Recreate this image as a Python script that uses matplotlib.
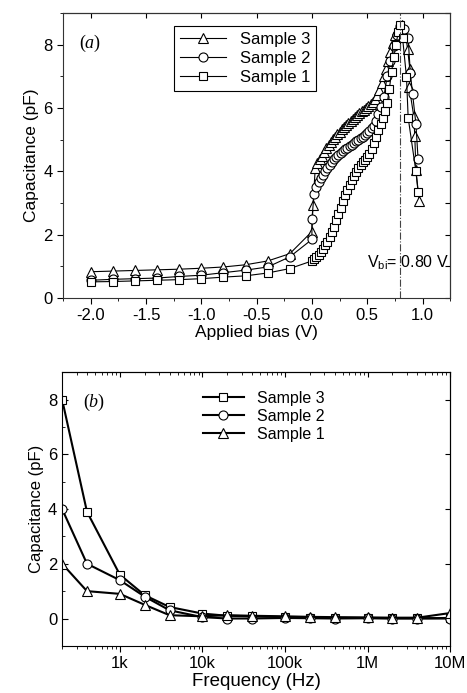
import matplotlib
matplotlib.use('Agg')
import matplotlib.pyplot as plt
from matplotlib.ticker import MultipleLocator, FixedLocator, LogLocator, NullFormatter

plt.rcParams['font.family'] = ['Liberation Sans', 'DejaVu Sans']
plt.rcParams['mathtext.fontset'] = 'custom'
plt.rcParams['mathtext.rm'] = 'Liberation Serif'
plt.rcParams['mathtext.it'] = 'Liberation Serif:italic'
plt.rcParams['mathtext.sf'] = 'Liberation Sans'

# ---- panel (a): C-V data ----
# Sample 3 (triangles)
bias_s3 = [-2.0, -1.8, -1.6, -1.4, -1.2, -1.0, -0.8, -0.6, -0.4, -0.2,
           0.00, 0.01, 0.03, 0.05, 0.07, 0.09, 0.11, 0.13, 0.15, 0.17, 0.19,
           0.21, 0.23, 0.25, 0.27, 0.29, 0.31, 0.33, 0.35, 0.37, 0.39,
           0.41, 0.43, 0.45, 0.47, 0.49, 0.51, 0.53, 0.55, 0.57, 0.59,
           0.61, 0.63, 0.65, 0.67, 0.69, 0.71, 0.73, 0.75, 0.77, 0.79, 0.81,
           0.85, 0.865, 0.885, 0.88, 0.92, 0.93, 0.94, 0.97]
cap_s3 = [0.83, 0.85, 0.87, 0.89, 0.91, 0.94, 0.98, 1.05, 1.17, 1.40,
          2.10, 2.95, 4.10, 4.25, 4.38, 4.50, 4.62, 4.73, 4.83, 4.93, 5.02,
          5.10, 5.18, 5.26, 5.33, 5.40, 5.47, 5.54, 5.60, 5.66, 5.72,
          5.78, 5.84, 5.90, 5.95, 6.01, 6.07, 6.13, 6.20, 6.30, 6.42,
          6.58, 6.78, 7.00, 7.25, 7.50, 7.78, 8.05, 8.30, 8.48, 8.60, 8.62,
          8.24, 7.87, 7.24, 6.66, 5.76, 5.12, 4.06, 3.06]

# Sample 2 (circles)
bias_s2 = [-2.0, -1.8, -1.6, -1.4, -1.2, -1.0, -0.8, -0.6, -0.4, -0.2,
           0.00, 0.00, 0.02, 0.04, 0.06, 0.08, 0.10, 0.12, 0.14, 0.16, 0.18,
           0.20, 0.22, 0.24, 0.26, 0.28, 0.30, 0.32, 0.34, 0.36, 0.38,
           0.40, 0.42, 0.44, 0.46, 0.48, 0.50, 0.52, 0.54, 0.56, 0.58,
           0.60, 0.62, 0.65, 0.68, 0.71, 0.74, 0.77, 0.80,
           0.83, 0.87, 0.89, 0.91, 0.94, 0.96]
cap_s2 = [0.56, 0.59, 0.61, 0.63, 0.68, 0.72, 0.80, 0.88, 0.98, 1.30,
          1.85, 2.50, 3.30, 3.50, 3.65, 3.78, 3.90, 4.00, 4.10, 4.20, 4.30,
          4.38, 4.45, 4.52, 4.58, 4.64, 4.70, 4.75, 4.80, 4.85, 4.90,
          4.95, 4.99, 5.04, 5.09, 5.14, 5.20, 5.28, 5.38, 5.45, 5.60,
          5.80, 6.05, 6.35, 7.00, 7.50, 7.95, 8.30, 8.60,
          8.50, 8.20, 7.10, 6.45, 5.50, 4.38]

# Sample 1 (squares)
bias_s1 = [-2.0, -1.8, -1.6, -1.4, -1.2, -1.0, -0.8, -0.6, -0.4, -0.2,
           0.00, 0.02, 0.04, 0.06, 0.08, 0.10, 0.12, 0.14, 0.16, 0.18,
           0.20, 0.22, 0.24, 0.26, 0.28, 0.30, 0.32, 0.34, 0.36, 0.38,
           0.40, 0.42, 0.44, 0.46, 0.48, 0.50, 0.52, 0.54, 0.56, 0.58,
           0.60, 0.62, 0.64, 0.66, 0.68, 0.70, 0.72, 0.74, 0.76, 0.78, 0.80,
           0.82, 0.855, 0.87, 0.94, 0.96]
cap_s1 = [0.51, 0.52, 0.54, 0.56, 0.58, 0.61, 0.66, 0.70, 0.79, 0.93,
          1.17, 1.22, 1.28, 1.36, 1.45, 1.55, 1.66, 1.78, 1.92, 2.08,
          2.25, 2.45, 2.65, 2.85, 3.05, 3.24, 3.42, 3.58, 3.73, 3.86,
          3.98, 4.10, 4.20, 4.29, 4.37, 4.45, 4.56, 4.70, 4.90, 5.10,
          5.30, 5.50, 5.68, 5.90, 6.15, 6.60, 7.15, 7.60, 8.00, 8.40, 8.62,
          8.20, 6.98, 5.70, 4.00, 3.34]

v_bi = 0.80

# ---- panel (b): C-f data ----
freq = [200, 400, 1e3, 2e3, 4e3, 1e4, 2e4, 4e4, 1e5, 2e5, 4e5, 1e6, 2e6, 4e6, 1e7]
cap_f3 = [8.0, 3.9, 1.6, 0.85, 0.42, 0.18, 0.10, 0.08, 0.05, 0.03, 0.02, 0.02, 0.01, 0.01, 0.02]
cap_f2 = [4.0, 2.0, 1.4, 0.80, 0.30, 0.05, 0.00, 0.00, 0.02, 0.01, 0.00, 0.01, 0.00, 0.00, 0.00]
cap_f1 = [2.0, 1.0, 0.9, 0.50, 0.12, 0.08, 0.12, 0.10, 0.08, 0.06, 0.05, 0.04, 0.03, 0.03, 0.20]
freq_ticks = [1e3, 1e4, 1e5, 1e6, 1e7]
freq_labels = ['1k', '10k', '100k', '1M', '10M']

fig = plt.figure(figsize=(4.67, 6.93), dpi=100)
ax1 = fig.add_axes([0.135, 0.570, 0.829, 0.411])
ax2 = fig.add_axes([0.133, 0.068, 0.831, 0.395])

mk = dict(mfc='white', mec='black', color='black')

# (a)
ax1.plot(bias_s3, cap_s3, marker='^', ms=7, lw=0.8, mew=0.8, label='Sample 3', **mk)
ax1.plot(bias_s2, cap_s2, marker='o', ms=6.5, lw=0.8, mew=0.8, label='Sample 2', **mk)
ax1.plot(bias_s1, cap_s1, marker='s', ms=5.5, lw=0.8, mew=0.8, label='Sample 1', **mk)
ax1.axvline(v_bi, color='#444444', lw=0.8, ls='-.')
ax1.text(0.495, 1.1, r'V$_{\mathsf{bi}}$= 0.80 V', fontsize=11.5, va='center')
ax1.text(0.04, 0.895, r'$(\mathit{a})$', transform=ax1.transAxes, fontsize=13, va='center')
ax1.set_xlim(-2.25, 1.25)
ax1.set_ylim(0, 9)
ax1.xaxis.set_major_locator(FixedLocator([-2.0, -1.5, -1.0, -0.5, 0.0, 0.5, 1.0]))
ax1.xaxis.set_minor_locator(MultipleLocator(0.25))
ax1.yaxis.set_major_locator(MultipleLocator(2))
ax1.yaxis.set_minor_locator(MultipleLocator(1))
ax1.set_xticklabels(['-2.0', '-1.5', '-1.0', '-0.5', '0.0', '0.5', '1.0'])
ax1.set_xlabel('Applied bias (V)', fontsize=12.5, labelpad=1)
ax1.set_ylabel('Capacitance (pF)', fontsize=12.5, labelpad=3)
ax1.tick_params(which='both', direction='out', labelsize=12)
ax1.tick_params(which='major', length=4)
ax1.tick_params(which='minor', length=2.5)
leg = ax1.legend(loc='upper left', bbox_to_anchor=(0.265, 0.985), fontsize=12,
                 handlelength=2.8, fancybox=False, edgecolor='black',
                 borderpad=0.35, labelspacing=0.25, framealpha=1)
leg.get_frame().set_linewidth(0.8)
for s in ax1.spines.values():
    s.set_color('#333333')

# (b)
ax2.plot(freq, cap_f3, marker='s', ms=6, lw=1.5, mew=0.8, label='Sample 3', **mk)
ax2.plot(freq, cap_f2, marker='o', ms=6.5, lw=1.5, mew=0.8, label='Sample 2', **mk)
ax2.plot(freq, cap_f1, marker='^', ms=7, lw=1.5, mew=0.8, label='Sample 1', **mk)
ax2.set_xscale('log')
ax2.set_xlim(200, 1e7)
ax2.set_ylim(-1, 9)
ax2.xaxis.set_major_locator(FixedLocator(freq_ticks))
ax2.xaxis.set_minor_locator(LogLocator(base=10, subs=range(2, 10)))
ax2.xaxis.set_minor_formatter(NullFormatter())
ax2.set_xticklabels(freq_labels)
ax2.yaxis.set_major_locator(FixedLocator([0, 2, 4, 6, 8]))
ax2.yaxis.set_minor_locator(MultipleLocator(1))
ax2.text(0.054, 0.89, r'$(\mathit{b})$', transform=ax2.transAxes, fontsize=13, va='center')
ax2.set_xlabel('Frequency (Hz)', fontsize=13.5, labelpad=1)
ax2.set_ylabel('Capacitance (pF)', fontsize=12, labelpad=3)
ax2.tick_params(which='both', labelsize=12)
ax2.tick_params(axis='x', which='both', direction='out')
ax2.tick_params(axis='y', which='both', direction='in')
ax2.tick_params(which='major', length=4)
ax2.tick_params(which='minor', length=2.5)
ax2.legend(loc='upper left', bbox_to_anchor=(0.325, 0.985), fontsize=11.5,
           handlelength=2.6, frameon=False, labelspacing=0.2)

# top/right frame ticks
for ax in (ax1, ax2):
    top = ax.secondary_xaxis('top')
    top.tick_params(which='both', direction='in', labeltop=False)
    top.set_xticks(ax.get_xticks())
    right = ax.secondary_yaxis('right')
    right.tick_params(which='both', direction='in', labelright=False)

fig.savefig('out.png', dpi=100)
